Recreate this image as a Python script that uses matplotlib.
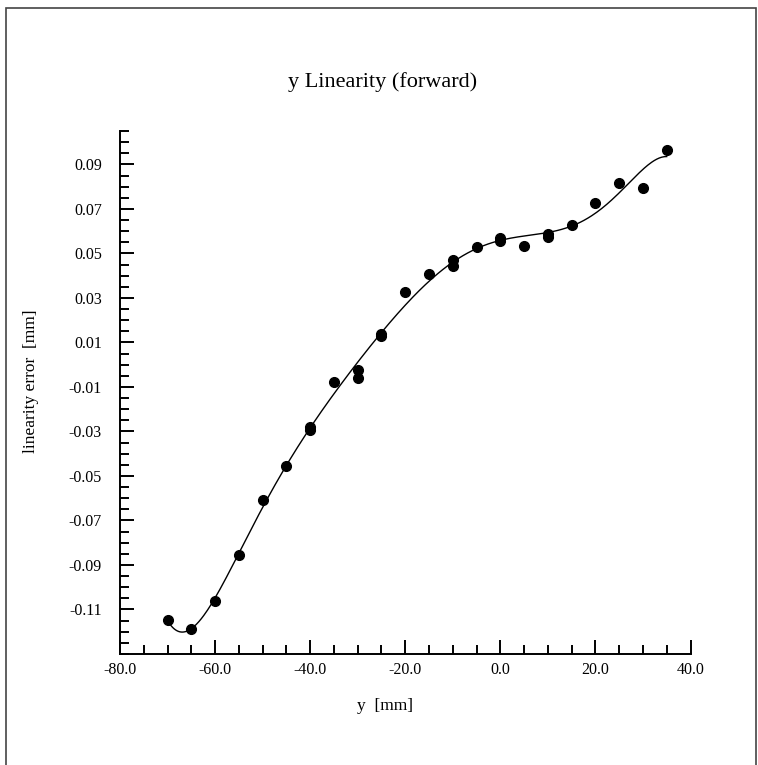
import numpy as np
import matplotlib
matplotlib.use('Agg')
import matplotlib.pyplot as plt
from matplotlib.ticker import MultipleLocator, FixedLocator, FormatStrFormatter
from matplotlib.patches import Rectangle

plt.rcParams['font.family'] = ['Liberation Serif', 'DejaVu Serif']
plt.rcParams['axes.unicode_minus'] = False

# 测量数据：位置 y [mm] 与线性误差 [mm]
y_pos = [-70, -65, -60, -55, -50, -45, -40, -40, -35, -30, -30, -25, -25,
         -20, -15, -10, -10, -5, 0, 0, 5, 10, 10, 15, 20, 25, 30, 35]
lin_err = [-0.1146, -0.1187, -0.1061, -0.0857, -0.0607, -0.0455, -0.0280,
           -0.0292, -0.0078, -0.0022, -0.0062, 0.0140, 0.0129, 0.0326,
           0.0408, 0.0471, 0.0445, 0.0527, 0.0569, 0.0554, 0.0534, 0.0587,
           0.0574, 0.0628, 0.0728, 0.0816, 0.0794, 0.0963]

y_major_ticks = [-0.11, -0.09, -0.07, -0.05, -0.03, -0.01, 0.01, 0.03, 0.05, 0.07, 0.09]
fit_degree = 7

fig = plt.figure(figsize=(7.58, 7.65), dpi=100)
ax = fig.add_axes([120 / 758, 1 - 654 / 765, 570.5 / 758, 523 / 765])

# 数据点
ax.plot(y_pos, lin_err, 'o', color='black', markersize=7, zorder=3)

# 多项式拟合曲线
coef = np.polyfit(y_pos, lin_err, fit_degree)
xs = np.linspace(min(y_pos), max(y_pos), 400)
ax.plot(xs, np.polyval(coef, xs), color='black', linewidth=1.0)

ax.set_xlim(-80, 40)
ax.set_ylim(-0.13, 0.105)

ax.xaxis.set_major_locator(MultipleLocator(20))
ax.xaxis.set_minor_locator(MultipleLocator(5))
ax.xaxis.set_major_formatter(FormatStrFormatter('%.1f'))
ax.yaxis.set_major_locator(FixedLocator(y_major_ticks))
ax.yaxis.set_minor_locator(MultipleLocator(0.005))
ax.yaxis.set_major_formatter(FormatStrFormatter('%.2f'))

for side in ['top', 'right']:
    ax.spines[side].set_visible(False)
for side in ['left', 'bottom']:
    ax.spines[side].set_linewidth(1.4)

ax.tick_params(axis='both', which='major', direction='in', length=10, width=1.4, labelsize=11.5)
ax.tick_params(axis='both', which='minor', direction='in', length=6.5, width=1.4)
ax.tick_params(axis='y', which='major', pad=13)
ax.tick_params(axis='x', which='major', pad=6)

fig.text(383 / 758, 1 - 82 / 765, 'y Linearity (forward)', ha='center', va='center', fontsize=16)
fig.text(385 / 758, 1 - 706 / 765, 'y  [mm]', ha='center', va='center', fontsize=12.5)
fig.text(31 / 758, 1 - 381 / 765, 'linearity error  [mm]', ha='center', va='center',
         rotation=90, fontsize=12.5)

# 外框
fig.patches.append(Rectangle((6 / 758, -0.05), 750 / 758, 1.05 - 8 / 765,
                             transform=fig.transFigure, fill=False,
                             edgecolor='#444444', linewidth=1.2))

plt.savefig('out.png', dpi=100)
